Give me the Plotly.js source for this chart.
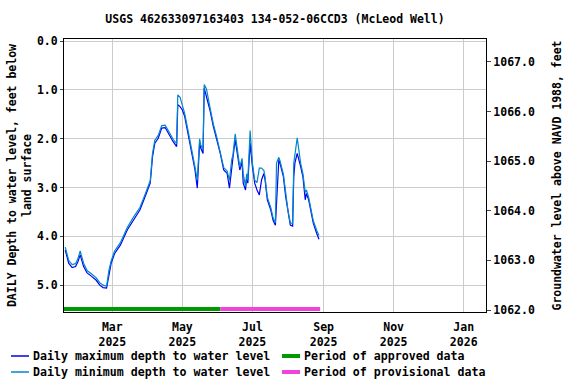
<!DOCTYPE html>
<html><head><meta charset="utf-8">
<script src="https://cdn.plot.ly/plotly-3.0.1.min.js"></script>
<style>html,body{margin:0;padding:0;background:#fff}#chart{width:576px;height:384px}</style>
</head><body><div id="chart"></div>
<script>
const dates = ['2025-01-19','2025-01-22','2025-01-25','2025-01-28','2025-01-30','2025-02-01','2025-02-04','2025-02-07','2025-02-11','2025-02-15','2025-02-18','2025-02-21','2025-02-24','2025-02-26','2025-02-28','2025-03-03','2025-03-08','2025-03-14','2025-03-19','2025-03-25','2025-03-29','2025-04-03','2025-04-05','2025-04-07','2025-04-10','2025-04-13','2025-04-16','2025-04-19','2025-04-23','2025-04-26','2025-04-27','2025-04-29','2025-05-01','2025-05-03','2025-05-06','2025-05-09','2025-05-12','2025-05-14','2025-05-16','2025-05-17','2025-05-19','2025-05-20','2025-05-22','2025-05-25','2025-05-28','2025-05-31','2025-06-03','2025-06-06','2025-06-09','2025-06-11','2025-06-13','2025-06-14','2025-06-16','2025-06-18','2025-06-20','2025-06-22','2025-06-23','2025-06-25','2025-06-26','2025-06-27','2025-06-29','2025-07-01','2025-07-03','2025-07-05','2025-07-07','2025-07-09','2025-07-11','2025-07-12','2025-07-14','2025-07-17','2025-07-19','2025-07-21','2025-07-22','2025-07-24','2025-07-25','2025-07-28','2025-07-30','2025-08-01','2025-08-03','2025-08-05','2025-08-06','2025-08-07','2025-08-09','2025-08-12','2025-08-14','2025-08-16','2025-08-17','2025-08-19','2025-08-21','2025-08-23','2025-08-26','2025-08-28'];
const maxDepth = [4.28,4.55,4.64,4.62,4.52,4.38,4.62,4.75,4.82,4.90,5.00,5.05,5.06,4.76,4.55,4.35,4.18,3.87,3.67,3.46,3.22,2.91,2.37,2.09,1.99,1.78,1.77,1.90,2.06,2.16,1.30,1.34,1.41,1.54,1.89,2.23,2.64,3.01,2.09,2.19,2.30,0.96,1.13,1.41,1.75,2.02,2.30,2.64,2.71,3.01,2.50,2.40,2.02,2.37,2.64,2.47,2.91,3.05,2.78,2.91,2.09,2.57,2.91,3.05,3.15,2.84,2.71,2.84,3.25,3.46,3.67,3.77,3.39,2.43,2.50,2.78,3.19,3.53,3.77,3.79,2.78,2.50,2.30,2.57,2.78,3.25,3.12,3.25,3.46,3.73,3.94,4.06];
const minDepth = [4.22,4.49,4.58,4.56,4.46,4.30,4.55,4.70,4.77,4.85,4.95,5.00,5.02,4.70,4.50,4.30,4.13,3.82,3.62,3.41,3.17,2.86,2.30,2.03,1.93,1.73,1.72,1.85,2.01,2.10,1.10,1.15,1.30,1.48,1.84,2.18,2.58,2.85,2.00,2.12,2.22,0.89,0.98,1.35,1.70,1.97,2.25,2.59,2.66,2.85,2.42,2.34,1.90,2.30,2.58,2.40,2.72,2.98,2.72,2.85,1.83,2.50,2.85,2.90,2.60,2.60,2.65,2.78,3.20,3.41,3.62,3.72,2.50,2.38,2.45,2.73,3.14,3.48,3.72,3.74,2.50,2.30,1.98,2.50,2.72,3.10,3.05,3.20,3.41,3.68,3.88,3.98];
const landSurfaceElevation = 1067.45;
const approvedPeriod = ['2025-01-17','2025-06-03'];
const provisionalPeriod = ['2025-06-03','2025-08-29'];
const periodDepth = 5.49;
const xTickVals = ['2025-03-01','2025-05-01','2025-07-01','2025-09-01','2025-11-01','2026-01-01'];
const xTickText = ['Mar<br>2025','May<br>2025','Jul<br>2025','Sep<br>2025','Nov<br>2025','Jan<br>2026'];
const leftTicks = [0,1,2,3,4,5];
const rightTicks = [1062,1063,1064,1065,1066,1067];
const legendNames = ['Daily maximum depth to water level','Daily minimum depth to water level','Period of approved data','Period of provisional data'];
const legendColors = ['#0000ee','#0088cc','#009900','#ee44dd'];

const F = {family:'"DejaVu Sans Mono", "Liberation Mono", monospace', size:11.5, color:'#000', weight:700};
const LF = Object.assign({}, F, {size:11.6});

const traces = [
  {x:dates, y:maxDepth, type:'scatter', mode:'lines', name:legendNames[0], line:{color:legendColors[0], width:1.2}},
  {x:dates, y:minDepth, type:'scatter', mode:'lines', name:legendNames[1], line:{color:legendColors[1], width:1.2}},
  {x:approvedPeriod, y:[periodDepth,periodDepth], type:'scatter', mode:'lines', name:legendNames[2], line:{color:legendColors[2], width:4}},
  {x:provisionalPeriod, y:[periodDepth,periodDepth], type:'scatter', mode:'lines', name:legendNames[3], line:{color:legendColors[3], width:4}},
  {x:dates, y:maxDepth.map(d => landSurfaceElevation - d), yaxis:'y2', type:'scatter', mode:'lines', name:'elevation', line:{color:'rgba(0,0,0,0)', width:0}, hoverinfo:'skip'}
];

// custom legend in a 2x2 grid (paper coords relative to plot area 64..486 x 39..312)
const plotL = 64, plotW = 422, plotB = 312, plotH = 273;
const px = v => (v - plotL) / plotW;
const py = v => (plotB - v) / plotH;
const legCols = [11, 282];
const legRows = [356, 372];
const legPos = [[0,0],[0,1],[1,0],[1,1]]; // [col,row]
const shapes = [], annotations = [];
legendNames.forEach((n, i) => {
  const c = legCols[legPos[i][0]], r = legRows[legPos[i][1]];
  const isBar = i >= 2;
  shapes.push({type:'line', xref:'paper', yref:'paper', x0:px(c), x1:px(c + 18), y0:py(r), y1:py(r), line:{color:legendColors[i], width:isBar ? 4 : 1.5}});
  annotations.push({xref:'paper', yref:'paper', x:px(c + 22), y:py(r), xanchor:'left', yanchor:'middle', text:n, showarrow:false, font:LF, xshift:-2});
});

const layout = {
  width:576, height:384,
  margin:{l:64, r:90, t:39, b:72},
  paper_bgcolor:'#fff', plot_bgcolor:'#fff',
  font:F,
  title:{text:'USGS 462633097163403 134-052-06CCD3 (McLeod Well)', font:F, x:0.5, xref:'paper', y:0.95, yanchor:'middle'},
  showlegend:false,
  shapes:shapes, annotations:annotations,
  xaxis:{type:'date', range:['2025-01-17 22:00','2026-01-20 10:00'], tickvals:xTickVals, ticktext:xTickText, showgrid:true, gridcolor:'#cccccc', gridwidth:1, showline:true, linecolor:'#000', linewidth:1, mirror:true, ticks:'outside', ticklen:4, tickcolor:'#fff', tickfont:F, zeroline:false},
  yaxis:{range:[5.55,-0.045], tickvals:leftTicks, tickformat:'.1f', showgrid:true, gridcolor:'#cccccc', gridwidth:1, showline:true, linecolor:'#000', linewidth:1, mirror:true, ticks:'outside', ticklen:3, tickfont:F, zeroline:false,
    title:{text:'DAILY Depth to water level, feet below<br>land surface', font:F, standoff:2}},
  yaxis2:{overlaying:'y', side:'right', range:[1061.96,1067.46], tickvals:rightTicks, tickformat:'.1f', showgrid:false, showline:false, ticks:'outside', ticklen:4, tickfont:F, zeroline:false,
    title:{text:'Groundwater level above NAVD 1988, feet', font:F, standoff:19}}
};

Plotly.newPlot('chart', traces, layout, {displayModeBar:false, staticPlot:true});
</script></body></html>
